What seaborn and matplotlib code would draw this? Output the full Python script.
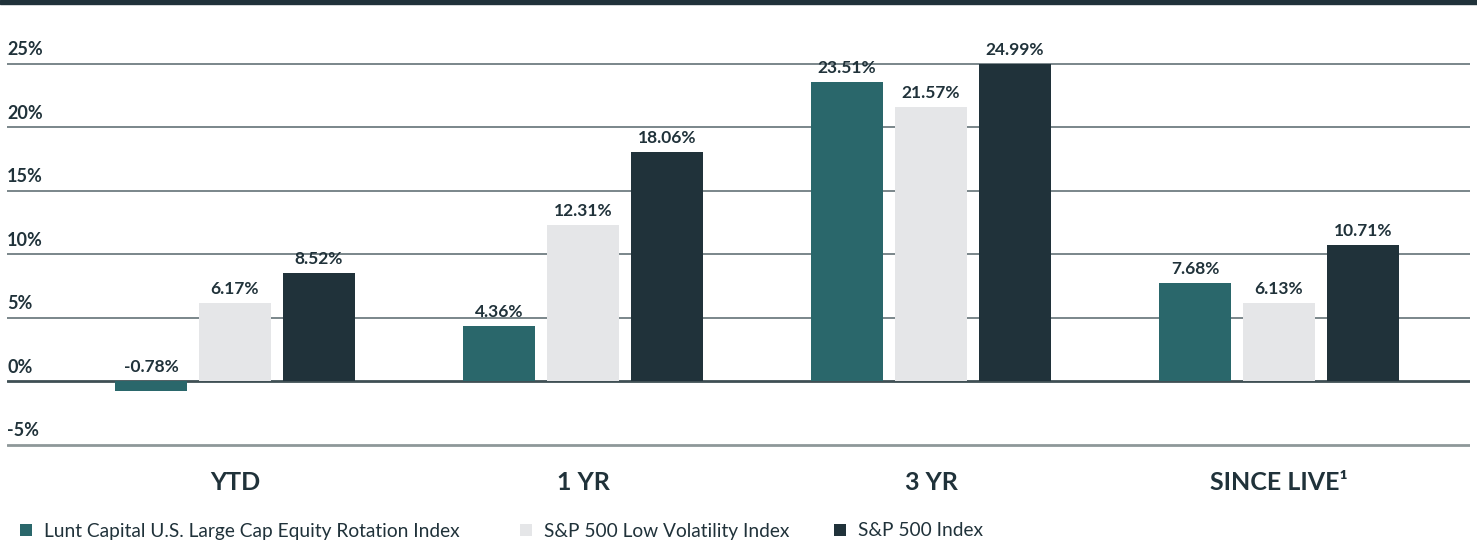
import pandas as pd
import seaborn as sns
import matplotlib.pyplot as plt
from matplotlib.patches import Rectangle

# === data ===
periods = ["YTD", "1 YR", "3 YR", "SINCE LIVE\u00b9"]
series = [
    "Lunt Capital U.S. Large Cap Equity Rotation Index",
    "S&P 500 Low Volatility Index",
    "S&P 500 Index",
]
lunt = [-0.78, 4.36, 23.51, 7.68]
low_vol = [6.17, 12.31, 21.57, 6.13]
sp500 = [8.52, 18.06, 24.99, 10.71]
y_ticks = [-5, 0, 5, 10, 15, 20, 25]

colors = ["#2a676b", "#e5e6e8", "#20323a"]
ink = "#20323a"

rows = []
for name, vals in zip(series, [lunt, low_vol, sp500]):
    for p, v in zip(periods, vals):
        rows.append({"period": p, "series": name, "value": v})
df = pd.DataFrame(rows)

sns.set_style("white")
plt.rcParams["font.family"] = ["Lato", "DejaVu Sans"]

W, H = 1477, 544
fig = plt.figure(figsize=(W / 100, H / 100), dpi=100)

# axes placed in pixel terms
px_unit = 12.7
y_lo, y_hi = -5.2, 27
ax_bottom_px = 381 + (-y_lo) * px_unit
ax_top_px = 381 - y_hi * px_unit
ax = fig.add_axes([7 / W, 1 - ax_bottom_px / H, 1463 / W, (ax_bottom_px - ax_top_px) / H])

sns.barplot(data=df, x="period", y="value", hue="series", hue_order=series,
            order=periods, palette=colors, width=0.724, gap=0.142,
            saturation=1, linewidth=0, ax=ax, zorder=3)

ax.set_xlim(-0.655, 3.549)
ax.set_ylim(y_lo, y_hi)
ax.set_yticks(y_ticks)
ax.set_yticklabels([])
ax.tick_params(axis="both", length=0)
ax.grid(axis="y", color="#56666b", linewidth=1.1, zorder=0)
for t, gl in zip(y_ticks, ax.yaxis.get_gridlines()):
    if t == 0:
        gl.set_color("#3f4f54")
        gl.set_linewidth(2.0)
        gl.set_zorder(4)
    elif t == -5:
        gl.set_color("#8e9899")
        gl.set_linewidth(2.0)
for s in ax.spines.values():
    s.set_visible(False)
ax.set_xlabel("")
ax.set_ylabel("")
ax.legend_.remove()

# y tick labels sit above the gridlines
for t in y_ticks:
    ax.annotate(f"{t}%", xy=(0, t), xycoords=ax.get_yaxis_transform(),
                xytext=(0, 6), textcoords="offset points", ha="left",
                va="baseline", fontsize=13, fontweight="bold", color=ink)

# value labels
for cont in ax.containers:
    for bar in cont:
        v = bar.get_height() if bar.get_y() >= 0 else bar.get_y()
        top = max(v, 0)
        ax.annotate(f"{v:.2f}%", xy=(bar.get_x() + bar.get_width() / 2, top),
                    xytext=(0, 6.5), textcoords="offset points", ha="center",
                    va="baseline", fontsize=12.5, fontweight="bold", color=ink)

ax.set_xticks(range(len(periods)))
ax.set_xticklabels(periods, fontsize=18, fontweight="bold", color=ink)
ax.tick_params(axis="x", pad=17)

# legend entries placed individually
handles = ax.containers
leg_x = [20, 520, 834]
for h, name, x in zip(handles, series, leg_x):
    fig.legend([h], [name], loc="center left", bbox_to_anchor=(x / W, 1 - 531 / H),
               frameon=False, borderpad=0, borderaxespad=0, handlelength=0.6,
               handleheight=0.6, handletextpad=0.65, fontsize=13.8,
               labelcolor=ink)

# dark band at the top
fig.patches.append(Rectangle((0, 1 - 4 / H), 1, 4 / H, transform=fig.transFigure,
                             color=ink, zorder=5))

fig.savefig("out.png", dpi=100)
